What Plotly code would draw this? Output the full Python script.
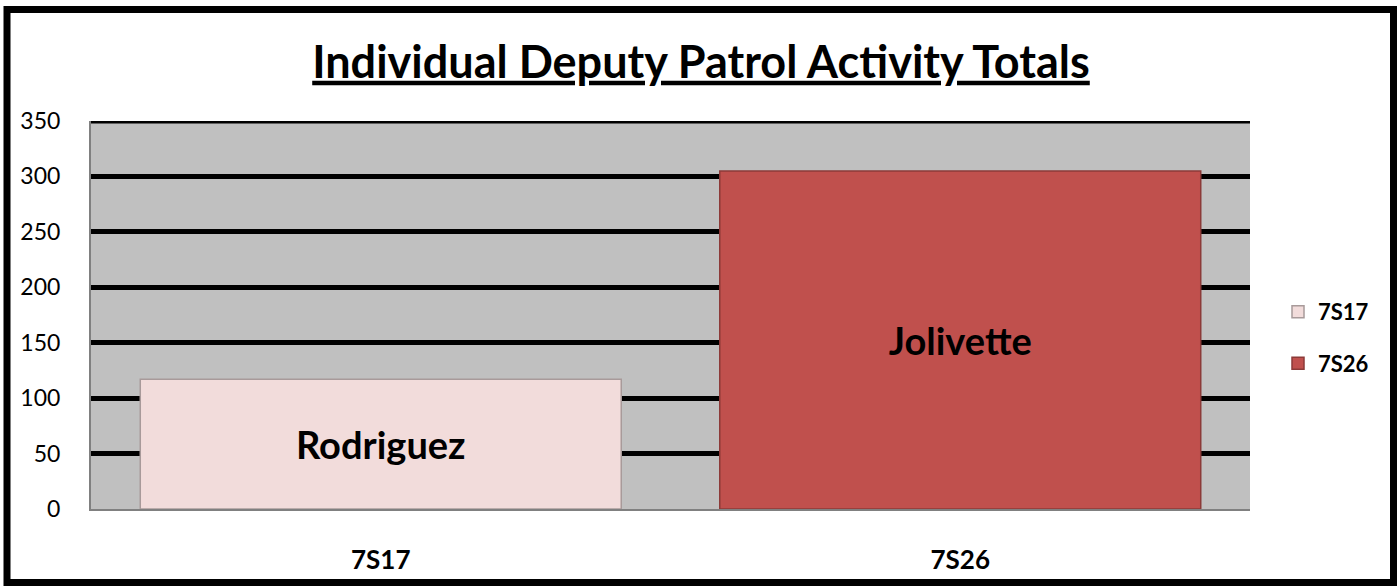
import plotly.graph_objects as go

categories = ["7S17", "7S26"]
values = [117, 305]
deputies = ["Rodriguez", "Jolivette"]
colors = ["#F2DCDB", "#C0504D"]
outlines = ["#A89A9A", "#8C3A38"]
y_ticks = [0, 50, 100, 150, 200, 250, 300, 350]

W, H = 1397, 587
L, R, T, B = 91, 147, 121, 76
PW, PH = W - L - R, H - T - B

FONT = "Lato"
fig = go.Figure()
for i, cat in enumerate(categories):
    fig.add_trace(go.Bar(
        x=[cat], y=[values[i]], name=cat, legendgroup=cat,
        text=[deputies[i]], textposition="inside", insidetextanchor="middle",
        textangle=0,
        textfont=dict(family=FONT, size=38, color="black", weight="bold"),
        marker=dict(color=colors[i], line=dict(color=outlines[i], width=1.5)),
        width=0.83,
    ))

fig.update_layout(
    width=W, height=H,
    margin=dict(l=L, r=R, t=T, b=B),
    paper_bgcolor="white", plot_bgcolor="#C0C0C0",
    barmode="overlay",
    title=dict(text="<b><u>Individual Deputy Patrol Activity Totals</u></b>",
               x=701 / W, xanchor="center", y=1 - 62 / H, yanchor="middle",
               font=dict(family=FONT, size=45, color="black")),
    showlegend=True,
    legend=dict(x=(1278 - L) / PW, xanchor="left", y=(511 - 339) / PH, yanchor="middle",
                font=dict(family=FONT, size=22, color="black", weight="bold"),
                traceorder="grouped", tracegroupgap=20, bgcolor="rgba(0,0,0,0)",
                itemwidth=30),
    xaxis=dict(type="category", categoryorder="array", categoryarray=categories,
               showgrid=False, showline=True, linecolor="#808080", linewidth=2,
               ticks="outside", ticklen=27, tickcolor="rgba(0,0,0,0)",
               tickfont=dict(family=FONT, size=26, color="black", weight="bold")),
    yaxis=dict(range=[0, 350], tickvals=y_ticks, showgrid=True, gridcolor="black",
               gridwidth=5, zeroline=False, showline=True, linecolor="#808080", linewidth=2,
               ticks="outside", ticklen=24, tickcolor="rgba(0,0,0,0)",
               tickfont=dict(family=FONT, size=23, color="black")),
    shapes=[
        dict(type="line", xref="paper", yref="y", x0=0, x1=1,
             y0=y_ticks[-1], y1=y_ticks[-1], line=dict(color="black", width=5), layer="below"),
        dict(type="rect", xref="paper", yref="paper",
             x0=(7 - L) / PW, x1=(1393.5 - L) / PW,
             y0=(511 - 585) / PH, y1=(511 - 9) / PH,
             line=dict(color="black", width=7), fillcolor="rgba(0,0,0,0)"),
    ],
)

fig.write_html("out.html", config={"displayModeBar": False},
               post_script="document.body.style.margin='0px';")
